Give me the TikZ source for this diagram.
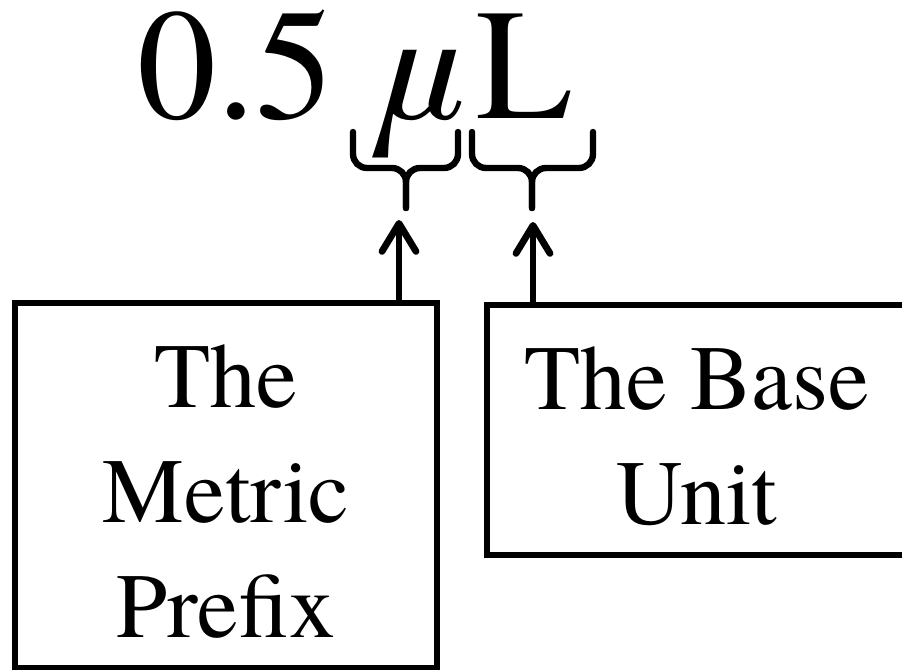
\documentclass[tikz,border=0pt]{standalone}
\usepackage{fontspec}
\setmainfont{texgyretermes}[Extension=.otf, UprightFont=*-regular,
  ItalicFont=*-italic, BoldFont=*-bold]
\usetikzlibrary{positioning,arrows.meta}

\tikzset{
  box/.style={draw, line width=3pt, inner sep=0pt, outer sep=0pt, anchor=north west},
  boxtext/.style={align=center, inner sep=0pt, font=\fontsize{46}{57.5}\selectfont},
  brace line/.style={line width=3.2pt, rounded corners=7pt, line cap=round},
  uparrow/.style={line width=3.4pt,
    -{Straight Barb[length=14pt,width=17pt,line cap=round,line join=round]}},
}

\begin{document}
\begin{tikzpicture}[x=0.5pt,y=-0.5pt]
\clip (0,0) rectangle (902,670);

% the quantity
\node[font=\fontsize{79}{95}\selectfont, inner sep=0pt, anchor=base west] (qty)
  at (137,118) {0.5\hspace{18pt}\textit{μ}\hspace{6pt}L};

% braces under prefix and unit
\coordinate (mutip) at (406,208);
\coordinate (ltip) at (532,208);
\draw[brace line] (353,132) |- (406,168) -- (mutip);
\draw[brace line] (458,132) |- (406,168) -- (mutip);
\draw[brace line] (472,132) |- (532,168) -- (ltip);
\draw[brace line] (593,132) |- (532,168) -- (ltip);

% boxes
\node[box, minimum width=211pt, minimum height=182.5pt] (prefix) at (15,303) {};
\node[boxtext] (prefixtext) at ([yshift=-3pt]prefix.center) {The\\Metric\\Prefix};
\node[box, minimum width=210pt, minimum height=125pt] (base) at (487,305) {};
\node[boxtext] (basetext) at ([yshift=-3pt]base.center) {The Base\\Unit};

% arrows up to the braces
\coordinate (muhead) at (399,220);
\coordinate (lhead) at (533,222);
\draw[uparrow] (prefix.north -| muhead) -- (muhead);
\draw[uparrow] (base.north -| lhead) -- (lhead);
\end{tikzpicture}
\end{document}
